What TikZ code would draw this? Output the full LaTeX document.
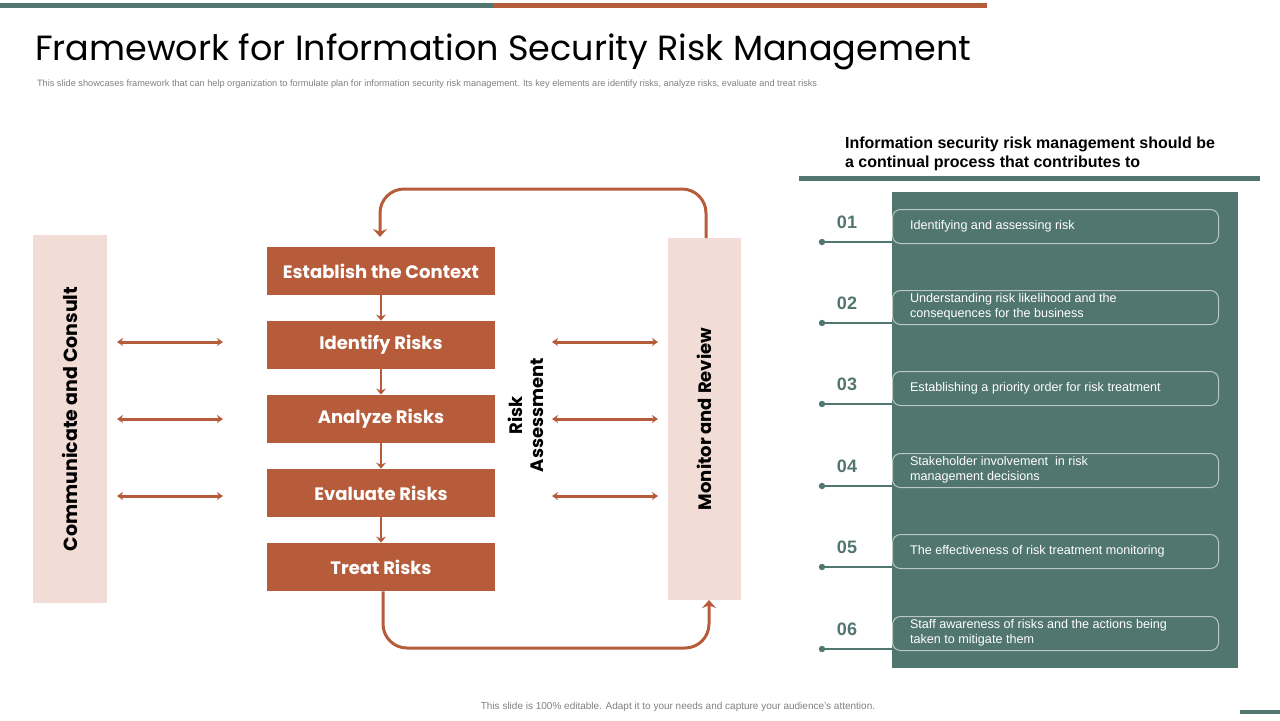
\documentclass[tikz,border=0pt]{standalone}
\usepackage{fontspec}
\setmainfont{Liberation Sans}
\newfontfamily\gfont{Poppins}
\usetikzlibrary{arrows.meta}
\definecolor{rust}{HTML}{B65C3B}
\definecolor{teal}{HTML}{51756F}
\definecolor{pinkb}{HTML}{F2DCD6}
\tikzset{
 stepbox/.style={fill=rust,minimum width=114pt,minimum height=24pt,inner sep=0,text=white,font=\gfont\fontsize{9}{10}\selectfont\bfseries},
 dbl/.style={draw=rust,line width=1.5pt,{Stealth[length=3pt,width=4pt]}-{Stealth[length=3pt,width=4pt]}},
 flow/.style={draw=rust,line width=1.5pt,-{Stealth[length=4pt,width=7pt]}},
 item/.style={draw=white!60!teal,rounded corners=4pt,line width=0.5pt,anchor=north west,minimum height=17pt,inner sep=0},
 itxt/.style={text=white,font=\fontsize{6.3}{7.5}\selectfont,align=left,anchor=west},
 num/.style={text=teal,font=\fontsize{9}{10}\selectfont\bfseries},
}
\begin{document}
\begin{tikzpicture}[x=0.5pt,y=-0.5pt]
\useasboundingbox (0,0) rectangle (1280,720);
\fill[teal] (0,3) rectangle (493,8);
\fill[rust] (493,3) rectangle (987,8);
\node[anchor=west,font=\gfont\fontsize{17.5}{20}\selectfont] (title) at (28,52) {Framework for Information Security Risk Management};
\node[anchor=west,text=gray,font=\fontsize{4.6}{5}\selectfont] (sub) at (30,84) {This slide showcases framework that can help organization to formulate plan for information security risk management. Its key elements are identify risks, analyze risks, evaluate and treat risks};
% side bars
\node[fill=pinkb,minimum width=37pt,minimum height=184pt,inner sep=0] (cc) at (70,419) {};
\node[rotate=90,font=\gfont\fontsize{9.5}{10}\selectfont\bfseries] at (cc) {Communicate and Consult};
\node[fill=pinkb,minimum width=36.5pt,minimum height=181pt,inner sep=0] (mr) at (704.5,419) {};
\node[rotate=90,font=\gfont\fontsize{9}{10}\selectfont\bfseries] at (mr) {Monitor and Review};
% steps
\node[stepbox] (s1) at (381,271) {Establish the Context};
\node[stepbox] (s2) at (381,345) {Identify Risks};
\node[stepbox] (s3) at (381,419) {Analyze Risks};
\node[stepbox] (s4) at (381,493) {Evaluate Risks};
\node[stepbox] (s5) at (381,567) {Treat Risks};
\foreach \a/\b in {s1/s2,s2/s3,s3/s4,s4/s5}
  \draw[draw=rust,line width=1.2pt,-{Stealth[length=3pt,width=5pt]}] (\a.south) -- (\b.north);
\node[rotate=90,align=center,font=\gfont\fontsize{9}{10.5}\selectfont\bfseries] (ra) at (526,415) {Risk\\Assessment};
\foreach \y in {342,419,496}{
  \draw[dbl] (117,\y) -- (223,\y);
  \draw[dbl] (552,\y) -- (658,\y);
}
\coordinate (t1) at (706,238);
\coordinate (t2) at (380,237);
\draw[flow,rounded corners=12pt] (t1) -- (706,189) -- (380,189) -- (t2);
\coordinate (b2) at (709,600);
\draw[flow,rounded corners=12pt] (s5.south -| 383,0) -- (383,648) -- (709,648) -- (b2);
% right
\node[anchor=north west,align=left,font=\fontsize{8}{9.5}\selectfont\bfseries] (hd) at (838,130) {Information security risk management should be\\a continual process that contributes to};
\fill[teal] (799,176) rectangle (1260,181);
\fill[teal] (892,192) rectangle (1238,668);
\foreach \n/\y/\t in {01/209/{Identifying and assessing risk},02/290/{Understanding risk likelihood and the\\consequences for the business},03/371/{Establishing a priority order for risk treatment},04/453/{Stakeholder involvement \ in risk\\management decisions},05/534/{The effectiveness of risk treatment monitoring},06/616/{Staff awareness of risks and the actions being\\taken to mitigate them}}{
  \node[item,minimum width=163pt] (i\n) at (892,\y) {};
  \node[itxt] at (903,\y+17) {\t};
  \node[num] at (847,\y+13) {\n};
  \fill[teal] (822,\y+33) circle (3.2);
  \draw[teal,line width=0.7pt] (822,\y+33) -- (892,\y+33);
}
\node[text=gray,font=\fontsize{5}{6}\selectfont] (ft) at (678,707) {This slide is 100\% editable. Adapt it to your needs and capture your audience's attention.};
\fill[teal] (1240,710) rectangle (1280,714);
\end{tikzpicture}
\end{document}
